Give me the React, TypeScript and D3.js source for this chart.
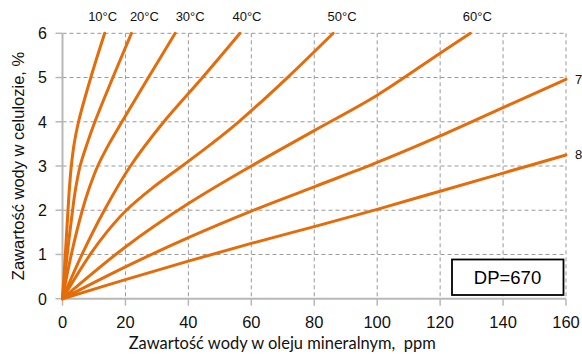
import React from "react";
import * as d3 from "d3";

const xTicks = [0, 20, 40, 60, 80, 100, 120, 140, 160];
const yTicks = [0, 1, 2, 3, 4, 5, 6];

const seriesNames = ["10°C", "20°C", "30°C", "40°C", "50°C", "60°C", "7", "8"];

const ppm10 = [0, 0.9, 1.75, 2.2, 2.8, 3.7, 5.1, 9.0, 13.4];
const wc10 = [0, 1, 2, 2.5, 3, 3.5, 4, 5, 6];
const ppm20 = [0, 1.5, 3.2, 4.2, 5.6, 7.8, 10.3, 16.0, 21.9];
const wc20 = [0, 1, 2, 2.5, 3, 3.5, 4, 5, 6];
const ppm30 = [0, 2.8, 6.3, 8.5, 11.2, 14.8, 18.9, 27.3, 35.8];
const wc30 = [0, 1, 2, 2.5, 3, 3.5, 4, 5, 6];
const ppm40 = [0, 6.2, 13.3, 21.6, 32.2, 44.5, 56.4];
const wc40 = [0, 1, 2, 3, 4, 5, 6];
const ppm50 = [0, 8.8, 14, 20.3, 28.5, 38, 47.3, 56, 71.5, 86];
const wc50 = [0, 1, 1.5, 2, 2.5, 3, 3.5, 4, 5, 6];
const ppm60 = [0, 20, 40, 60, 80, 100, 120, 129.6];
const wc60 = [0, 1.17, 2.15, 3.0, 3.8, 4.6, 5.55, 6];
const ppm7 = [0, 20, 40, 60, 80, 100, 120, 140, 160];
const wc7 = [0, 0.72, 1.38, 1.98, 2.53, 3.08, 3.68, 4.32, 4.96];
const ppm8 = [0, 20, 40, 60, 80, 100, 120, 140, 160];
const wc8 = [0, 0.43, 0.85, 1.25, 1.63, 2.02, 2.43, 2.84, 3.25];

const seriesX = [ppm10, ppm20, ppm30, ppm40, ppm50, ppm60, ppm7, ppm8];
const seriesY = [wc10, wc20, wc30, wc40, wc50, wc60, wc7, wc8];

const dpLabel = "DP=670";
const xTitle = "Zawartość wody w oleju mineralnym,\u00A0 ppm";
const yTitle = "Zawartość wody w celulozie, %";

const W = 582;
const H = 360;
const L = 62.5;
const R = 566;
const T = 33.3;
const B = 298.7;
const ORANGE = "#E46C0A";
const FONT = "'Liberation Sans', Arial, sans-serif";

export default function App() {
  const x = d3.scaleLinear().domain([0, 160]).range([L, R]);
  const y = d3.scaleLinear().domain([0, 6]).range([B, T]);

  const line = d3
    .line<[number, number]>()
    .x((d) => x(d[0]))
    .y((d) => y(d[1]))
    .curve(d3.curveCatmullRom.alpha(0.5));

  const series = seriesX.map((xs, i) => xs.map((v, j) => [v, seriesY[i][j]] as [number, number]));

  return (
    <svg
      width={W}
      height={H}
      style={{ position: "absolute", left: 0, top: 0, background: "#fff" }}
      fontFamily={FONT}
    >
      <rect x={0} y={0} width={W} height={H} fill="#fff" />
      {yTicks.slice(1).map((t) => (
        <line key={"gy" + t} x1={L} x2={R} y1={y(t)} y2={y(t)} stroke="#999" strokeWidth={1} strokeDasharray="4,3" />
      ))}
      {xTicks.slice(1).map((t) => (
        <line key={"gx" + t} x1={x(t)} x2={x(t)} y1={T} y2={B} stroke="#999" strokeWidth={1} strokeDasharray="4,3" />
      ))}
      <line x1={L} x2={L} y1={T} y2={B} stroke="#b8b8b8" strokeWidth={2} />
      <line x1={L} x2={R} y1={B} y2={B} stroke="#b8b8b8" strokeWidth={2} />
      {yTicks.map((t) => (
        <line key={"ty" + t} x1={L - 7} x2={L} y1={y(t)} y2={y(t)} stroke="#b8b8b8" strokeWidth={1.5} />
      ))}
      {xTicks.map((t) => (
        <line key={"tx" + t} x1={x(t)} x2={x(t)} y1={B} y2={B + 7} stroke="#b8b8b8" strokeWidth={1.5} />
      ))}
      {yTicks.map((t) => (
        <text key={"ly" + t} x={47} y={y(t) + 5.8} textAnchor="end" fontSize={16} fill="#111">
          {t}
        </text>
      ))}
      {xTicks.map((t) => (
        <text key={"lx" + t} x={x(t)} y={327.5} textAnchor="middle" fontSize={16.5} fill="#111">
          {t}
        </text>
      ))}
      {series.map((s, i) => (
        <path key={"s" + i} d={line(s) || ""} fill="none" stroke={ORANGE} strokeWidth={3} strokeLinecap="round" />
      ))}
      {seriesNames.slice(0, 6).map((n, i) => {
        const xs = seriesX[i];
        const top = xs[xs.length - 1];
        const offsets = [-2, 13, 15, 7, 9, 7];
        return (
          <text key={"n" + i} x={x(top) + offsets[i]} y={20.5} textAnchor="middle" fontSize={13} fill="#111">
            {n}
          </text>
        );
      })}
      {seriesNames.slice(6).map((n, k) => {
        const i = k + 6;
        const xs = seriesX[i];
        const ys = seriesY[i];
        return (
          <text key={"n" + i} x={x(xs[xs.length - 1]) + 9} y={y(ys[ys.length - 1]) + 4.5} fontSize={13} fill="#111">
            {n}
          </text>
        );
      })}
      <rect x={452} y={259.5} width={111.5} height={35.5} fill="#fff" stroke="#000" strokeWidth={1.8} />
      <text x={507.5} y={283.5} textAnchor="middle" fontSize={18.5} fill="#000">
        {dpLabel}
      </text>
      <text
        x={(L + R) / 2 - 32}
        y={348.5}
        textAnchor="middle"
        fontSize={16.5}
        fontFamily="Lato, 'Open Sans', sans-serif"
        fill="#111"
        textLength={307}
        lengthAdjust="spacingAndGlyphs"
      >
        {xTitle}
      </text>
      <text
        transform={`translate(23.5, ${(T + B) / 2}) rotate(-90)`}
        textAnchor="middle"
        fontSize={16.5}
        fill="#111"
      >
        {yTitle}
      </text>
    </svg>
  );
}
